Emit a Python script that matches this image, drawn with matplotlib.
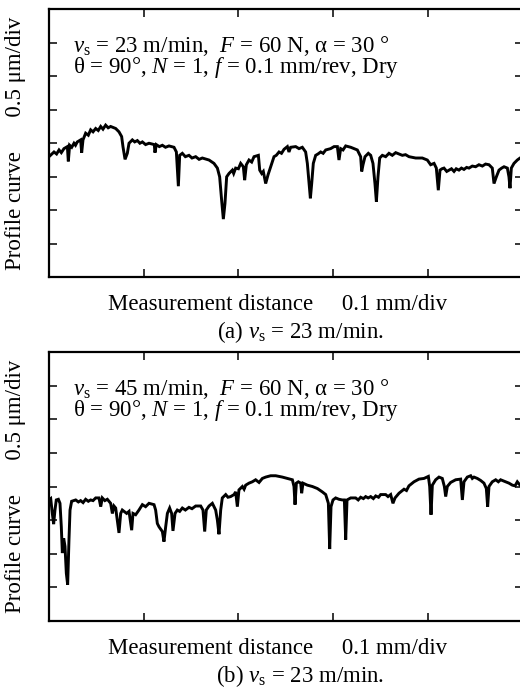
import matplotlib
matplotlib.use("Agg")
import matplotlib.pyplot as plt
import numpy as np

plt.rcParams['font.family'] = ['Liberation Serif', 'DejaVu Serif']
plt.rcParams['mathtext.fontset'] = 'custom'
plt.rcParams['mathtext.rm'] = 'Liberation Serif'
plt.rcParams['mathtext.it'] = 'Liberation Serif:italic'

# profile traces as (distance mm, height um)
profile_a = [
    (0.0000, 1.80), (0.0053, 1.87), (0.0080, 1.84), (0.0106, 1.90), (0.0130, 1.86), (0.0158, 1.92),
    (0.0194, 1.95), (0.0204, 1.73), (0.0218, 1.97), (0.0240, 1.94), (0.0264, 2.00), (0.0280, 1.97),
    (0.0299, 2.02), (0.0334, 2.05), (0.0345, 1.86), (0.0359, 2.05), (0.0387, 2.15), (0.0415, 2.12),
    (0.0440, 2.20), (0.0465, 2.17), (0.0493, 2.22), (0.0520, 2.19), (0.0546, 2.25), (0.0570, 2.21),
    (0.0598, 2.27), (0.0625, 2.23), (0.0651, 2.25), (0.0704, 2.22), (0.0739, 2.17), (0.0767, 2.10),
    (0.0781, 1.95), (0.0803, 1.76), (0.0827, 1.85), (0.0845, 2.00), (0.0880, 2.05), (0.0905, 2.02),
    (0.0933, 2.04), (0.0960, 2.00), (0.0986, 2.02), (0.1020, 1.98), (0.1056, 2.00), (0.1112, 1.98),
    (0.1119, 1.86), (0.1133, 1.98), (0.1165, 1.95), (0.1197, 1.97), (0.1230, 1.94), (0.1267, 1.96),
    (0.1320, 1.94), (0.1345, 1.87), (0.1366, 1.36), (0.1380, 1.82), (0.1408, 1.85), (0.1440, 1.80),
    (0.1478, 1.82), (0.1510, 1.78), (0.1549, 1.80), (0.1585, 1.76), (0.1619, 1.78), (0.1690, 1.75),
    (0.1742, 1.70), (0.1778, 1.63), (0.1802, 1.50), (0.1823, 1.15), (0.1841, 0.87), (0.1858, 1.10),
    (0.1876, 1.50), (0.1901, 1.55), (0.1936, 1.60), (0.1950, 1.55), (0.1971, 1.63), (0.2000, 1.62),
    (0.2024, 1.70), (0.2052, 1.65), (0.2066, 1.45), (0.2084, 1.68), (0.2112, 1.75), (0.2140, 1.72),
    (0.2165, 1.80), (0.2211, 1.82), (0.2225, 1.60), (0.2246, 1.55), (0.2263, 1.58), (0.2288, 1.40),
    (0.2313, 1.53), (0.2341, 1.65), (0.2376, 1.80), (0.2400, 1.82), (0.2429, 1.87), (0.2455, 1.85),
    (0.2482, 1.91), (0.2517, 1.95), (0.2534, 1.87), (0.2552, 1.94), (0.2605, 1.95), (0.2640, 1.92),
    (0.2675, 1.94), (0.2710, 1.87), (0.2728, 1.70), (0.2746, 1.40), (0.2760, 1.18), (0.2774, 1.40),
    (0.2791, 1.70), (0.2816, 1.82), (0.2840, 1.84), (0.2869, 1.87), (0.2895, 1.85), (0.2922, 1.90),
    (0.2974, 1.92), (0.3010, 1.95), (0.3045, 1.95), (0.3062, 1.75), (0.3080, 1.92), (0.3105, 1.90),
    (0.3133, 1.96), (0.3186, 1.94), (0.3256, 1.90), (0.3291, 1.80), (0.3302, 1.58), (0.3316, 1.68),
    (0.3337, 1.80), (0.3372, 1.85), (0.3397, 1.82), (0.3421, 1.70), (0.3442, 1.40), (0.3457, 1.13),
    (0.3474, 1.50), (0.3492, 1.78), (0.3520, 1.82), (0.3555, 1.80), (0.3590, 1.85), (0.3625, 1.82),
    (0.3661, 1.86), (0.3731, 1.82), (0.3765, 1.83), (0.3801, 1.80), (0.3872, 1.78), (0.3942, 1.78),
    (0.3995, 1.75), (0.4030, 1.68), (0.4066, 1.70), (0.4090, 1.63), (0.4111, 1.30), (0.4129, 1.60),
    (0.4150, 1.62), (0.4171, 1.63), (0.4200, 1.58), (0.4224, 1.60), (0.4250, 1.62), (0.4277, 1.58),
    (0.4300, 1.62), (0.4329, 1.60), (0.4355, 1.63), (0.4382, 1.61), (0.4410, 1.64), (0.4435, 1.63),
    (0.4470, 1.66), (0.4505, 1.65), (0.4540, 1.68), (0.4576, 1.66), (0.4610, 1.69), (0.4646, 1.68),
    (0.4681, 1.63), (0.4699, 1.40), (0.4724, 1.50), (0.4752, 1.60), (0.4780, 1.63), (0.4805, 1.65),
    (0.4840, 1.63), (0.4857, 1.50), (0.4868, 1.33), (0.4882, 1.63), (0.4910, 1.70), (0.4945, 1.75),
    (0.4974, 1.78), (0.5000, 1.80),
]
profile_b = [
    (0.0000, 1.80), (0.0018, 1.82), (0.0035, 1.60), (0.0049, 1.44), (0.0063, 1.65), (0.0077, 1.80),
    (0.0099, 1.81), (0.0116, 1.75), (0.0130, 1.40), (0.0141, 1.01), (0.0155, 1.23), (0.0169, 1.11),
    (0.0183, 0.71), (0.0197, 0.54), (0.0211, 1.21), (0.0222, 1.65), (0.0239, 1.78), (0.0282, 1.80),
    (0.0310, 1.77), (0.0334, 1.79), (0.0360, 1.76), (0.0387, 1.81), (0.0415, 1.78), (0.0440, 1.80),
    (0.0465, 1.79), (0.0493, 1.83), (0.0528, 1.83), (0.0546, 1.70), (0.0563, 1.83), (0.0590, 1.79),
    (0.0616, 1.81), (0.0651, 1.75), (0.0669, 1.60), (0.0686, 1.71), (0.0704, 1.68), (0.0739, 1.31),
    (0.0757, 1.60), (0.0774, 1.65), (0.0792, 1.63), (0.0820, 1.60), (0.0845, 1.63), (0.0873, 1.35),
    (0.0887, 1.60), (0.0915, 1.58), (0.0950, 1.65), (0.0986, 1.73), (0.1020, 1.70), (0.1056, 1.75),
    (0.1109, 1.73), (0.1126, 1.65), (0.1144, 1.45), (0.1162, 1.40), (0.1197, 1.33), (0.1214, 1.18),
    (0.1232, 1.40), (0.1250, 1.60), (0.1274, 1.68), (0.1295, 1.60), (0.1309, 1.34), (0.1331, 1.60),
    (0.1355, 1.65), (0.1380, 1.63), (0.1408, 1.68), (0.1440, 1.65), (0.1478, 1.69), (0.1510, 1.67),
    (0.1549, 1.71), (0.1602, 1.71), (0.1626, 1.65), (0.1644, 1.33), (0.1661, 1.65), (0.1690, 1.71),
    (0.1725, 1.75), (0.1760, 1.65), (0.1778, 1.50), (0.1795, 1.29), (0.1813, 1.65), (0.1830, 1.83),
    (0.1866, 1.88), (0.1890, 1.84), (0.1918, 1.85), (0.1954, 1.88), (0.1971, 1.92), (0.1989, 1.70),
    (0.2006, 1.95), (0.2042, 2.00), (0.2060, 1.96), (0.2077, 2.02), (0.2112, 2.05), (0.2147, 2.07),
    (0.2182, 2.10), (0.2218, 2.06), (0.2253, 2.12), (0.2288, 2.14), (0.2341, 2.16), (0.2394, 2.16),
    (0.2464, 2.14), (0.2517, 2.12), (0.2570, 2.10), (0.2587, 2.00), (0.2598, 1.73), (0.2612, 2.05),
    (0.2633, 2.07), (0.2658, 2.05), (0.2668, 1.90), (0.2682, 2.05), (0.2728, 2.02), (0.2781, 2.00),
    (0.2834, 1.97), (0.2886, 1.92), (0.2922, 1.88), (0.2950, 1.75), (0.2964, 1.07), (0.2978, 1.70),
    (0.2999, 1.80), (0.3027, 1.83), (0.3062, 1.81), (0.3097, 1.80), (0.3119, 1.80), (0.3133, 1.21),
    (0.3147, 1.80), (0.3186, 1.83), (0.3238, 1.83), (0.3265, 1.80), (0.3291, 1.84), (0.3320, 1.82),
    (0.3344, 1.85), (0.3370, 1.83), (0.3397, 1.85), (0.3425, 1.82), (0.3450, 1.86), (0.3480, 1.84),
    (0.3502, 1.88), (0.3555, 1.88), (0.3580, 1.85), (0.3608, 1.88), (0.3632, 1.75), (0.3654, 1.83),
    (0.3696, 1.90), (0.3749, 1.96), (0.3775, 1.94), (0.3801, 2.01), (0.3854, 2.07), (0.3907, 2.11),
    (0.3960, 2.12), (0.4006, 2.15), (0.4020, 2.00), (0.4034, 1.58), (0.4048, 2.02), (0.4083, 2.10),
    (0.4118, 2.14), (0.4153, 2.12), (0.4175, 2.00), (0.4189, 1.85), (0.4206, 2.00), (0.4241, 2.06),
    (0.4294, 2.10), (0.4347, 2.11), (0.4365, 1.80), (0.4382, 2.07), (0.4417, 2.14), (0.4453, 2.16),
    (0.4470, 2.12), (0.4488, 2.14), (0.4523, 2.12), (0.4558, 2.09), (0.4593, 2.05), (0.4618, 1.97),
    (0.4632, 1.70), (0.4646, 2.00), (0.4681, 2.07), (0.4717, 2.10), (0.4745, 2.07), (0.4769, 2.10),
    (0.4822, 2.07), (0.4857, 2.05), (0.4893, 2.02), (0.4921, 2.01), (0.4945, 2.07), (0.4974, 2.02),
    (0.5000, 2.04),
]

conditions = [
    r'$v_{\rm s}$ = 23 m/min,  $F$ = 60 N, α = 30 °' + '\n' + r'θ = 90°, $N$ = 1, $f$ = 0.1 mm/rev, Dry',
    r'$v_{\rm s}$ = 45 m/min,  $F$ = 60 N, α = 30 °' + '\n' + r'θ = 90°, $N$ = 1, $f$ = 0.1 mm/rev, Dry',
]
captions = [r'(a) $v_{\rm s}$ = 23 m/min.', r'(b) $v_{\rm s}$ = 23 m/min.']
xlabel_text = 'Measurement distance     0.1 mm/div'
ylabel_text = 'Profile curve      0.5 μm/div'

W, H = 520, 693
FS = 16.5
fig = plt.figure(figsize=(W / 100, H / 100), dpi=100, facecolor='white')


def fx(px):
    return px / W


def fy(py):
    return 1 - py / H


panels = [(9, 277.5), (352, 621)]
traces = [profile_a, profile_b]

for i, ((top, bot), trace) in enumerate(zip(panels, traces)):
    xs, ys = zip(*trace)
    ax = fig.add_axes([fx(49), fy(bot), (522.5 - 49) / W, (bot - top) / H])
    ax.plot(xs, ys, color='black', lw=2.1, solid_joinstyle='miter')
    ax.set_xlim(0, 0.5)
    ax.set_ylim(0, 4)
    ax.set_xticks(np.arange(0.1, 0.5, 0.1))
    ax.set_yticks(np.arange(0.5, 4, 0.5))
    ax.tick_params(direction='in', length=6, width=1.1, top=True, right=True,
                   labelbottom=False, labelleft=False)
    for sp in ax.spines.values():
        sp.set_linewidth(1.6)

    fig.text(fx(73), fy(top + 48), conditions[i], fontsize=FS, va='center', ha='left',
             linespacing=0.85)
    fig.text(fx(278), fy(bot + 27), xlabel_text, fontsize=FS, ha='center', va='center')
    fig.text(fx(300), fy(bot + 55), captions[i], fontsize=FS, ha='center', va='center')
    fig.text(fx(16), fy((top + bot) / 2), ylabel_text, fontsize=FS, rotation=90,
             ha='center', va='center')

fig.savefig('out.png', dpi=100, facecolor='white')
